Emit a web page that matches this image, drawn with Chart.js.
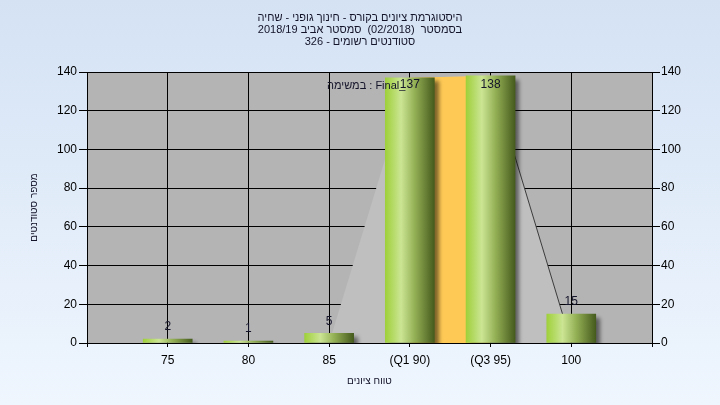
<!DOCTYPE html>
<html><head><meta charset="utf-8">
<script src="https://cdn.jsdelivr.net/npm/chart.js@4.4.1/dist/chart.umd.min.js"></script>
<style>html,body{margin:0;padding:0;background:#eef5fd}#wrap{width:720px;height:405px;position:relative}</style>
</head><body><div id="wrap"><canvas id="c"></canvas></div>
<script>
// ---- data ----
const categories = ['75', '80', '85', '(Q1 90)', '(Q3 95)', '100'];
const counts = [2, 1, 5, 137, 138, 15];
const boxHeights = [137, 138];          // orange Q1..Q3 box
const curveValues = [0, 137, 138, 0];   // grey outline over 85..100
const yTicks = [0, 20, 40, 60, 80, 100, 120, 140];
const titleLines = [
  'היסטוגרמת ציונים בקורס - חינוך גופני - שחיה',
  'בסמסטר  (02/2018)  סמסטר אביב 2018/19',
  'סטודנטים רשומים - 326'
];
const legendText = 'במשימה : Final_';
const yTitle = 'מספר סטודנטים';
const xTitle = 'טווח ציונים';

const FONT = '"Liberation Sans", Arial, sans-serif';
const BAR_W = 49;
const xPos = categories.map((_, i) => i + 1);
const barData = counts.map((v, i) => ({x: xPos[i], y: v}));
const boxData = boxHeights.map((v, i) => ({x: xPos[3 + i], y: v}));
const curveData = curveValues.map((v, i) => ({x: xPos[2 + i], y: v}));

function barFill(ctx) {
  const chart = ctx.chart;
  if (!chart.chartArea || !ctx.raw) return '#8fb548';
  const cx = chart.scales.x.getPixelForValue(ctx.raw.x);
  const g = chart.ctx.createLinearGradient(cx - BAR_W / 2, 0, cx + BAR_W / 2, 0);
  g.addColorStop(0, '#9fd03a');
  g.addColorStop(0.32, '#cbe594');
  g.addColorStop(0.6, '#94b055');
  g.addColorStop(1, '#455b1d');
  return g;
}

const bgPlugin = {
  id: 'bg',
  beforeDraw(chart) {
    const {ctx, width, height, chartArea: a} = chart;
    ctx.save();
    const g = ctx.createLinearGradient(0, 0, 0, height);
    g.addColorStop(0, '#d4e2f4');
    g.addColorStop(1, '#eff6fe');
    ctx.fillStyle = g;
    ctx.fillRect(0, 0, width, height);
    ctx.fillStyle = '#b4b4b4';
    ctx.fillRect(a.left, a.top, a.right - a.left, a.bottom - a.top);
    ctx.restore();
  }
};

const shadowPlugin = {
  id: 'shadow',
  beforeDatasetDraw(chart, args) {
    if (args.meta.type === 'bar') {
      const ctx = chart.ctx;
      ctx.save();
      ctx.shadowColor = 'rgba(0,0,0,0.5)';
      ctx.shadowBlur = 4;
      ctx.shadowOffsetX = 4;
      ctx.shadowOffsetY = 4;
    }
  },
  afterDatasetDraw(chart, args) {
    if (args.meta.type === 'bar') chart.ctx.restore();
  }
};

const textPlugin = {
  id: 'texts',
  afterDraw(chart) {
    const {ctx, chartArea: a} = chart;
    ctx.save();
    ctx.fillStyle = '#14142a';
    ctx.font = '12px ' + FONT;
    ctx.textBaseline = 'middle';
    // data labels
    const meta = chart.getDatasetMeta(0);
    ctx.textAlign = 'center';
    meta.data.forEach((el, i) => {
      const y = Math.max(el.y - 12, a.top + 13);
      ctx.fillText(String(counts[i]), el.x, y);
    });
    // legend-like text
    ctx.font = '11px ' + FONT;
    ctx.textAlign = 'left';
    ctx.fillText(legendText, 327, 86);
    // titles
    ctx.direction = 'rtl';
    ctx.textAlign = 'center';
    const ys = [18, 30, 42];
    titleLines.forEach((t, i) => ctx.fillText(t, 360, ys[i]));
    ctx.restore();
  }
};

const tickFont = {family: FONT, size: 12};
new Chart(document.getElementById('c'), {
  type: 'bar',
  data: {
    datasets: [
      {type: 'bar', data: barData, backgroundColor: barFill, barThickness: BAR_W, order: 0, borderWidth: 0},
      {type: 'line', data: boxData, backgroundColor: '#fec955', borderWidth: 0, pointRadius: 0, fill: 'origin', order: 1},
      {type: 'line', data: curveData, backgroundColor: '#bfbfbf', borderWidth: 1, pointRadius: 0, fill: 'origin', order: 2,
        borderColor: 'rgba(0,0,0,0)',
        segment: {borderColor: c => c.p0DataIndex === 2 ? '#3c3c3c' : 'rgba(0,0,0,0)'}}
    ]
  },
  options: {
    responsive: true, maintainAspectRatio: false, animation: false,
    layout: {padding: {top: 72, left: 0, right: 0, bottom: 0}},
    plugins: {legend: {display: false}, tooltip: {enabled: false}, title: {display: false}},
    scales: {
      x: {
        type: 'linear', min: 0, max: xPos.length + 1, offset: false,
        afterFit(s) { s.height = 62; },
        afterBuildTicks(s) { s.ticks = [0, ...xPos, xPos.length + 1].map(v => ({value: v})); },
        ticks: {font: tickFont, color: '#000', padding: 6, maxRotation: 0, autoSkip: false,
          callback: v => (v >= 1 && v <= categories.length) ? categories[v - 1] : ''},
        grid: {color: '#000', lineWidth: 1, tickLength: 4, offset: false, drawTicks: true},
        border: {color: '#000'},
        title: {display: true, text: xTitle, font: {family: FONT, size: 10}, color: '#14142a', padding: {top: 0, bottom: 18}}
      },
      y: {
        position: 'left', min: 0, max: 140,
        afterFit(s) { s.width = 87; },
        afterBuildTicks(s) { s.ticks = yTicks.map(v => ({value: v})); },
        ticks: {font: tickFont, color: '#000', padding: 2},
        grid: {color: '#000', lineWidth: 1, tickLength: 8},
        border: {color: '#000'},
        title: {display: true, text: yTitle, font: {family: FONT, size: 10}, color: '#14142a', padding: {top: 28, bottom: 0}}
      },
      y2: {
        position: 'right', min: 0, max: 140,
        afterFit(s) { s.width = 68; },
        afterBuildTicks(s) { s.ticks = yTicks.map(v => ({value: v})); },
        ticks: {font: tickFont, color: '#000', padding: 1},
        grid: {drawOnChartArea: false, color: '#000', tickLength: 8},
        border: {color: '#000'}
      }
    }
  },
  plugins: [bgPlugin, shadowPlugin, textPlugin]
});
</script></body></html>
